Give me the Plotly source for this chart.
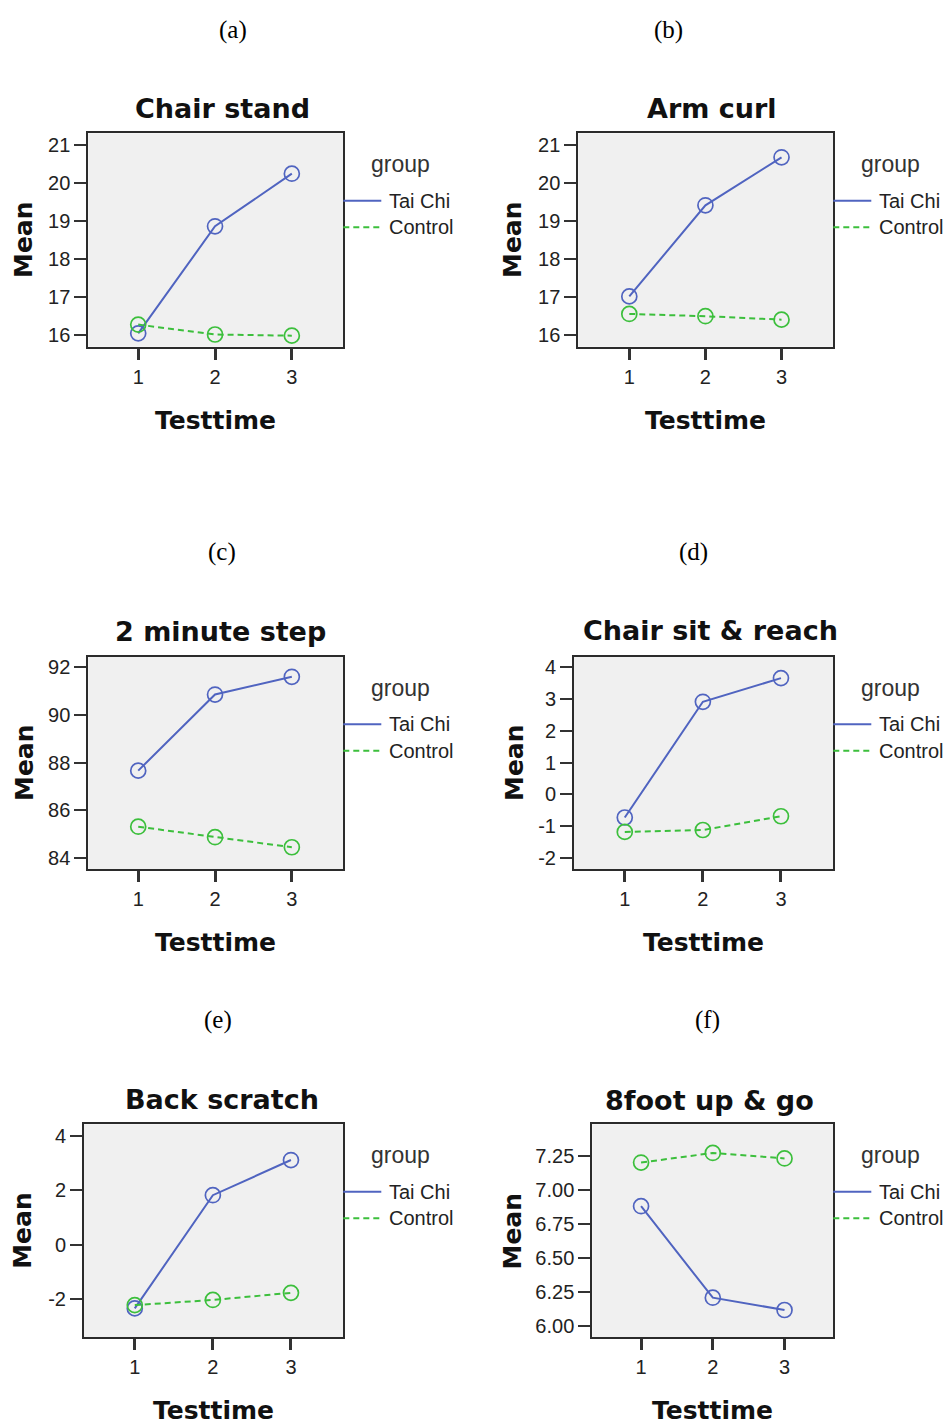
import plotly.graph_objects as go

W, H = 948, 1424

# ---- data -------------------------------------------------------------
testtime = [1, 2, 3]
group_names = ["Tai Chi", "Control"]

panel_labels = ["(a)", "(b)", "(c)", "(d)", "(e)", "(f)"]
panel_titles = ["Chair stand", "Arm curl", "2 minute step",
                "Chair sit & reach", "Back scratch", "8foot up & go"]

chair_stand_taichi = [16.05, 18.86, 20.24]
chair_stand_control = [16.28, 16.02, 15.99]

arm_curl_taichi = [17.02, 19.41, 20.67]
arm_curl_control = [16.56, 16.50, 16.41]

step_taichi = [87.66, 90.84, 91.58]
step_control = [85.32, 84.88, 84.46]

sit_reach_taichi = [-0.72, 2.90, 3.64]
sit_reach_control = [-1.17, -1.11, -0.68]

back_scratch_taichi = [-2.33, 1.82, 3.11]
back_scratch_control = [-2.21, -2.02, -1.76]

up_go_taichi = [6.88, 6.21, 6.12]
up_go_control = [7.20, 7.27, 7.23]

# tick values and their printed labels
chair_stand_ticks = [16, 17, 18, 19, 20, 21]
chair_stand_ticktext = ["16", "17", "18", "19", "20", "21"]
arm_curl_ticks = [16, 17, 18, 19, 20, 21]
arm_curl_ticktext = ["16", "17", "18", "19", "20", "21"]
step_ticks = [84, 86, 88, 90, 92]
step_ticktext = ["84", "86", "88", "90", "92"]
sit_reach_ticks = [-2, -1, 0, 1, 2, 3, 4]
sit_reach_ticktext = ["-2", "-1", "0", "1", "2", "3", "4"]
back_scratch_ticks = [-2, 0, 2, 4]
back_scratch_ticktext = ["-2", "0", "2", "4"]
up_go_ticks = [6.00, 6.25, 6.50, 6.75, 7.00, 7.25]
up_go_ticktext = ["6.00", "6.25", "6.50", "6.75", "7.00", "7.25"]

taichi_series = [chair_stand_taichi, arm_curl_taichi, step_taichi,
                 sit_reach_taichi, back_scratch_taichi, up_go_taichi]
control_series = [chair_stand_control, arm_curl_control, step_control,
                  sit_reach_control, back_scratch_control, up_go_control]
tick_vals = [chair_stand_ticks, arm_curl_ticks, step_ticks,
             sit_reach_ticks, back_scratch_ticks, up_go_ticks]
tick_texts = [chair_stand_ticktext, arm_curl_ticktext, step_ticktext,
              sit_reach_ticktext, back_scratch_ticktext, up_go_ticktext]

# ---- layout geometry (pixels) -----------------------------------------
# plot box: left, right, top, bottom
boxes = [
    (88.3, 343.3, 133.3, 346.7),
    (578.3, 833.3, 133.3, 346.7),
    (88.3, 343.3, 656.7, 869.3),
    (574.0, 833.3, 656.7, 869.3),
    (84.0, 343.3, 1124.3, 1337.3),
    (592.3, 833.3, 1124.3, 1337.3),
]
y_ranges = [(15.7, 21.3), (15.7, 21.3), (83.54, 92.42),
            (-2.34, 4.31), (-3.39, 4.42), (5.92, 7.48)]
x_ranges = [(0.35, 3.67), (0.33, 3.68), (0.35, 3.67),
            (0.35, 3.67), (0.35, 3.67), (0.32, 3.68)]
title_pos = [(222, 108), (711.7, 108), (220, 631.7),
             (710.7, 630.7), (221.7, 1099.3), (709.3, 1100)]
label_pos = [(233, 30), (668, 30), (222, 552),
             (693, 552), (218, 1020), (707, 1020)]
mean_x = [24, 513, 24, 514, 23, 512.7]

BLUE = "#5064c0"
GREEN = "#3cbf3c"
FRAME = "#2b2b2b"
DASH = "6px,4px"


def px(x):
    return x / W


def py(y):
    return 1 - y / H


fig = go.Figure()
annotations = []
shapes = []

for i in range(6):
    left, right, top, bottom = boxes[i]
    xa = "x" if i == 0 else f"x{i + 1}"
    ya = "y" if i == 0 else f"y{i + 1}"

    fig.add_trace(go.Scatter(
        x=testtime, y=taichi_series[i], xaxis=xa, yaxis=ya,
        name=group_names[0], showlegend=False, mode="lines+markers",
        line=dict(color=BLUE, width=2),
        marker=dict(symbol="circle-open", size=15, color=BLUE,
                    line=dict(width=1.7, color=BLUE)),
        cliponaxis=False,
    ))
    fig.add_trace(go.Scatter(
        x=testtime, y=control_series[i], xaxis=xa, yaxis=ya,
        name=group_names[1], showlegend=False, mode="lines+markers",
        line=dict(color=GREEN, width=2, dash=DASH),
        marker=dict(symbol="circle-open", size=15, color=GREEN,
                    line=dict(width=1.7, color=GREEN)),
        cliponaxis=False,
    ))

    key_x = "xaxis" if i == 0 else f"xaxis{i + 1}"
    key_y = "yaxis" if i == 0 else f"yaxis{i + 1}"
    fig.layout[key_x] = dict(
        domain=[px(left), px(right)], range=list(x_ranges[i]),
        anchor=ya, tickmode="array", tickvals=testtime,
        ticktext=[str(t) for t in testtime],
        ticks="outside", ticklen=11, tickwidth=2.5, tickcolor="#333",
        showline=True, mirror=True, linewidth=2, linecolor=FRAME,
        showgrid=False, zeroline=False, fixedrange=True,
        tickfont=dict(family="Liberation Sans", size=20, color="#222"),
    )
    fig.layout[key_y] = dict(
        domain=[py(bottom), py(top)], range=list(y_ranges[i]),
        anchor=xa, tickmode="array", tickvals=tick_vals[i],
        ticktext=tick_texts[i],
        ticks="outside", ticklen=12, tickwidth=2, tickcolor="#333",
        showline=True, mirror=True, linewidth=2, linecolor=FRAME,
        showgrid=False, zeroline=False, fixedrange=True,
        tickfont=dict(family="Liberation Sans", size=20, color="#222"),
    )

    # plot-area background
    shapes.append(dict(type="rect", xref="paper", yref="paper",
                       x0=px(left), x1=px(right), y0=py(bottom), y1=py(top),
                       fillcolor="#f0f0f0", line=dict(width=0), layer="below"))

    # panel title
    tx, ty = title_pos[i]
    annotations.append(dict(text=panel_titles[i], x=px(tx), y=py(ty),
                            xref="paper", yref="paper", showarrow=False,
                            xanchor="center", yanchor="middle",
                            font=dict(family="DejaVu Sans", size=27,
                                      color="#111", weight="bold")))
    # panel letter
    lx, ly = label_pos[i]
    annotations.append(dict(text=panel_labels[i], x=px(lx), y=py(ly),
                            xref="paper", yref="paper", showarrow=False,
                            xanchor="center", yanchor="middle",
                            font=dict(family="Liberation Serif", size=25,
                                      color="#000")))
    # axis titles
    annotations.append(dict(text="Mean", x=px(mean_x[i]),
                            y=py((top + bottom) / 2), textangle=-90,
                            xref="paper", yref="paper", showarrow=False,
                            xanchor="center", yanchor="middle",
                            font=dict(family="DejaVu Sans", size=25,
                                      color="#111", weight="bold")))
    annotations.append(dict(text="Testtime", x=px((left + right) / 2),
                            y=py(bottom + 73.5),
                            xref="paper", yref="paper", showarrow=False,
                            xanchor="center", yanchor="middle",
                            font=dict(family="DejaVu Sans", size=25,
                                      color="#111", weight="bold")))

    # group key to the right of the box
    annotations.append(dict(text="group", x=px(right + 26), y=py(top + 31),
                            xref="paper", yref="paper", showarrow=False,
                            xanchor="left", yanchor="middle",
                            font=dict(family="Liberation Sans", size=23,
                                      color="#333")))
    for name, color, dash, dy in ((group_names[0], BLUE, "solid", 67.5),
                                  (group_names[1], GREEN, DASH, 94)):
        shapes.append(dict(type="line", xref="paper", yref="paper",
                           x0=px(right), x1=px(right + 38),
                           y0=py(top + dy), y1=py(top + dy),
                           line=dict(color=color, width=2, dash=dash)))
        annotations.append(dict(text=name, x=px(right + 44), y=py(top + dy),
                                xref="paper", yref="paper", showarrow=False,
                                xanchor="left", yanchor="middle",
                                font=dict(family="Liberation Sans", size=20,
                                          color="#222")))

fig.update_layout(
    width=W, height=H, margin=dict(l=0, r=0, t=0, b=0),
    paper_bgcolor="white", plot_bgcolor="rgba(0,0,0,0)",
    showlegend=False, annotations=annotations, shapes=shapes,
)

fig.write_html("out.html")
